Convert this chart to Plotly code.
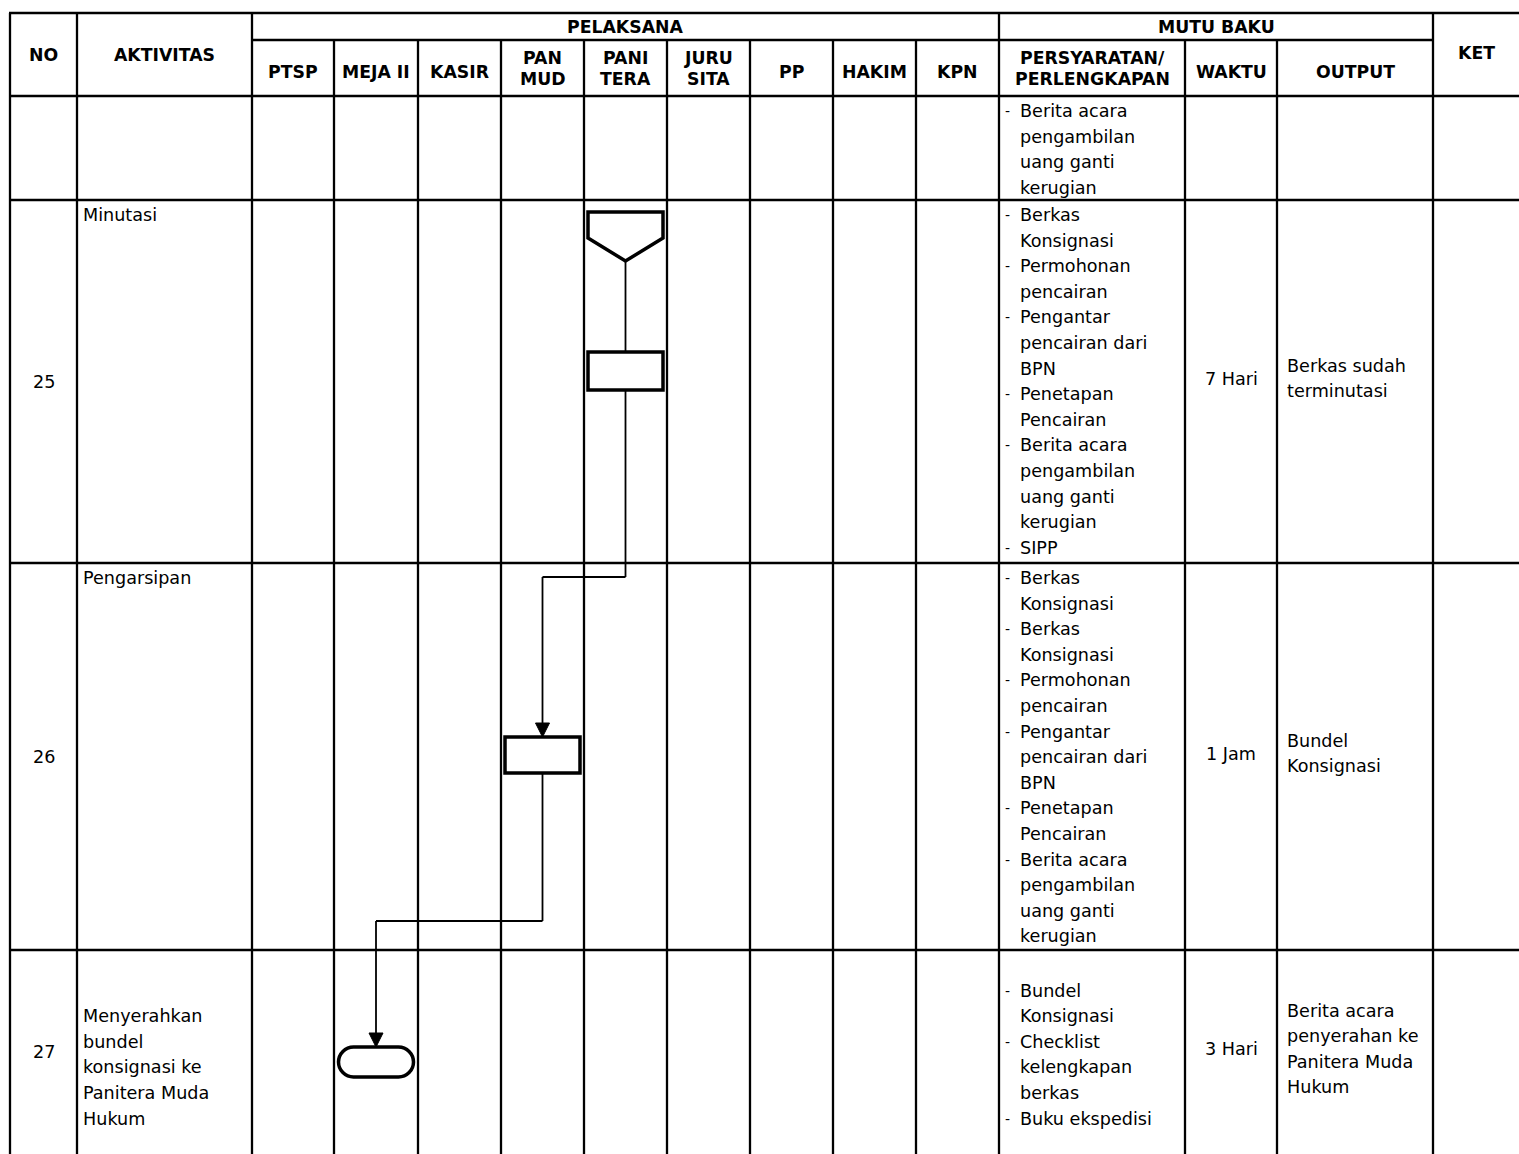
import plotly.graph_objects as go

# ------------------------------------------------------------------ data
header_no = "NO"
header_aktivitas = "AKTIVITAS"
header_pelaksana = "PELAKSANA"
header_mutu = "MUTU BAKU"
header_ket = "KET"
pelaksana_cols = [["PTSP"], ["MEJA II"], ["KASIR"], ["PAN", "MUD"], ["PANI", "TERA"],
                  ["JURU", "SITA"], ["PP"], ["HAKIM"], ["KPN"]]
mutu_cols = [["PERSYARATAN/", "PERLENGKAPAN"], ["WAKTU"], ["OUTPUT"]]

row_no = ["", "25", "26", "27"]
aktivitas = [
    [],
    ["Minutasi"],
    ["Pengarsipan"],
    ["", "", "Menyerahkan", "bundel", "konsignasi ke", "Panitera Muda", "Hukum"],
]
# each item: list of lines; None = blank paragraph
persyaratan = [
    [["Berita acara", "pengambilan", "uang ganti", "kerugian"]],
    [["Berkas", "Konsignasi"], ["Permohonan", "pencairan"], ["Pengantar", "pencairan dari", "BPN"],
     ["Penetapan", "Pencairan"], ["Berita acara", "pengambilan", "uang ganti", "kerugian"], ["SIPP"]],
    [["Berkas", "Konsignasi"], ["Berkas", "Konsignasi"], ["Permohonan", "pencairan"],
     ["Pengantar", "pencairan dari", "BPN"], ["Penetapan", "Pencairan"],
     ["Berita acara", "pengambilan", "uang ganti", "kerugian"]],
    [None, ["Bundel", "Konsignasi"], ["Checklist", "kelengkapan", "berkas"], ["Buku ekspedisi"]],
]
waktu = ["", "7 Hari", "1 Jam", "3 Hari"]
output = [
    [],
    ["Berkas sudah", "terminutasi"],
    ["Bundel", "Konsignasi"],
    ["Berita acara", "penyerahan ke", "Panitera Muda", "Hukum"],
]
# flow steps: (row index, pelaksana column index, symbol)
flow_steps = [
    (1, 4, "offpage"),
    (1, 4, "process"),
    (2, 3, "process"),
    (3, 1, "terminator"),
]

# ------------------------------------------------------------------ layout
W, H = 1519, 1154
col_edges = [10, 77, 252, 334, 418, 501, 584, 667, 750, 833, 916, 999, 1185, 1277, 1433, 1521]
y_top, y_mid, y_head = 13, 40, 96
row_edges = [96, 200, 563, 950, 1160]
LS = 25.6
FIRST = 15
FONT = "DejaVu Sans"
BODY = 17.6
HEAD = 17.3
GRID_W = 2.3
SYM_W = 3.5
CONN_W = 1.8
SYM_HALF = 37.5
# symbol vertical placement (offset of symbol top from row top, height)
sym_place = {0: (12, 49), 1: (152, 38), 2: (174, 36), 3: (97, 30)}

fig = go.Figure()
shapes = []
ann = []


def line(x0, y0, x1, y1, w=GRID_W):
    shapes.append(dict(type="line", x0=x0, y0=y0, x1=x1, y1=y1,
                       line=dict(color="black", width=w), layer="above"))


def text(x, y, s, anchor="left", bold=False, size=None):
    if bold:
        s = "<b>" + s + "</b>"
    ann.append(dict(x=x, y=y, text=s, showarrow=False, xanchor=anchor, yanchor="middle",
                    xref="x", yref="y", borderpad=0,
                    font=dict(family=FONT, size=size or (HEAD if bold else BODY), color="black")))


# grid ---------------------------------------------------------------
line(col_edges[0] - 1, y_top, col_edges[-1], y_top)
line(col_edges[2], y_mid, col_edges[14], y_mid)
line(col_edges[0] - 1, y_head, col_edges[-1], y_head)
for r in row_edges[1:-1]:
    line(col_edges[0] - 1, r, col_edges[-1], r)
for i, x in enumerate(col_edges):
    top = y_top if i in (0, 1, 2, 11, 14, 15) else y_mid
    line(x, top, x, H + 5)

# header text --------------------------------------------------------
cx = [(col_edges[i] + col_edges[i + 1]) / 2 for i in range(len(col_edges) - 1)]
hy = 54
text(cx[0], hy + 1, header_no, "center", True)
text(cx[1], hy + 1, header_aktivitas, "center", True)
text((col_edges[2] + col_edges[11]) / 2, 27, header_pelaksana, "center", True)
text((col_edges[11] + col_edges[14]) / 2, 27, header_mutu, "center", True)
text(1476, hy - 1, header_ket, "center", True)
sub = pelaksana_cols + mutu_cols
for j, lines in enumerate(sub):
    c = cx[2 + j]
    n = len(lines)
    if n == 1:
        text(c, 72, lines[0], "center", True)
    else:
        for k, s in enumerate(lines):
            text(c, 58 + k * 21, s, "center", True)

# body text ----------------------------------------------------------
for r in range(4):
    top = row_edges[r]
    bot = min(row_edges[r + 1], H)
    mid = (top + bot) / 2
    if row_no[r]:
        text(cx[0], mid, row_no[r], "center")
    for k, s in enumerate(aktivitas[r]):
        if s:
            text(82, top + FIRST + k * LS, s)
    k = 0
    for item in persyaratan[r]:
        if item is None:
            k += 1
            continue
        text(1004, top + FIRST + k * LS, "-", size=14)
        for s in item:
            text(1019, top + FIRST + k * LS, s)
            k += 1
    if waktu[r]:
        text(cx[12], mid - 3, waktu[r], "center")
    n = len(output[r])
    for k, s in enumerate(output[r]):
        text(1286, mid - 3 + (k - (n - 1) / 2) * LS, s)

# flowchart ----------------------------------------------------------
sym_boxes = []
for i, (r, c, kind) in enumerate(flow_steps):
    xc = cx[2 + c]
    off, h = sym_place[i]
    y0 = row_edges[r] + off
    x0, x1 = xc - SYM_HALF, xc + SYM_HALF
    y1 = y0 + h
    if kind == "offpage":
        ys = y0 + 26
        path = f"M{x0},{y0} L{x1},{y0} L{x1},{ys} L{xc},{y1} L{x0},{ys} Z"
    elif kind == "process":
        path = f"M{x0},{y0} L{x1},{y0} L{x1},{y1} L{x0},{y1} Z"
    else:
        rr = h / 2
        kk = 0.5523 * rr
        ym = (y0 + y1) / 2
        path = (f"M{x0 + rr},{y0} L{x1 - rr},{y0} "
                f"C{x1 - rr + kk},{y0} {x1},{ym - kk} {x1},{ym} "
                f"C{x1},{ym + kk} {x1 - rr + kk},{y1} {x1 - rr},{y1} "
                f"L{x0 + rr},{y1} "
                f"C{x0 + rr - kk},{y1} {x0},{ym + kk} {x0},{ym} "
                f"C{x0},{ym - kk} {x0 + rr - kk},{y0} {x0 + rr},{y0} Z")
    shapes.append(dict(type="path", path=path, fillcolor="white",
                       line=dict(color="black", width=SYM_W), layer="above"))
    sym_boxes.append((xc, y0, y1, r))


def arrow_head(x, y):
    shapes.append(dict(type="path", path=f"M{x - 7},{y - 14} L{x + 7},{y - 14} L{x},{y} Z",
                       fillcolor="black", line=dict(color="black", width=1), layer="above"))


for a, b in zip(sym_boxes[:-1], sym_boxes[1:]):
    xa, _, ya1, ra = a
    xb, yb0, _, rb = b
    if abs(xa - xb) < 1:
        line(xa, ya1, xb, yb0, CONN_W)
    else:
        elbow = row_edges[rb] + 14 if rb == 2 else row_edges[rb] - 29
        line(xa, ya1, xa, elbow, CONN_W)
        line(xa, elbow, xb, elbow, CONN_W)
        line(xb, elbow, xb, yb0 - 12, CONN_W)
        arrow_head(xb, yb0)

fig.update_layout(
    width=W, height=H, margin=dict(l=0, r=0, t=0, b=0),
    plot_bgcolor="white", paper_bgcolor="white",
    xaxis=dict(range=[0, W], visible=False, fixedrange=True),
    yaxis=dict(range=[H, 0], visible=False, fixedrange=True),
    shapes=shapes, annotations=ann, showlegend=False,
)
fig.write_html("out.html",
               config={"displayModeBar": False, "staticPlot": True},
               post_script="document.body.style.margin='0px';document.body.style.overflow='hidden';")
